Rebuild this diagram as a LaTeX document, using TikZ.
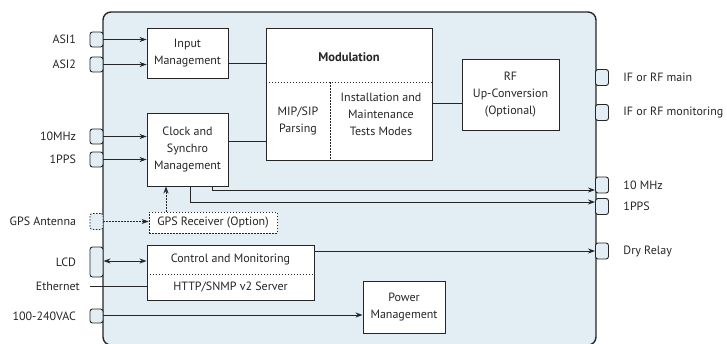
\documentclass[tikz,border=0pt]{standalone}
\usepackage{fontspec}
\setmainfont{PT Sans}
\usetikzlibrary{positioning,arrows.meta}
\definecolor{panel}{HTML}{E2EEF4}
\definecolor{ink}{HTML}{262626}
\begin{document}
\begin{tikzpicture}[>={Stealth[length=7pt,width=5pt]}, x=1pt, y=-1pt,
  every node/.style={font=\fontsize{12}{17}\selectfont, text=ink},
  block/.style={draw=ink, fill=white, align=center, inner sep=0pt, line width=0.9pt},
  port/.style={draw=ink, fill=panel, rounded corners=2.5pt, minimum width=13pt,
    minimum height=15pt, inner sep=0pt, line width=0.9pt},
  wire/.style={draw=ink, line width=0.9pt},
  dotline/.style={draw=ink, line width=0.8pt, dash pattern=on 1.5pt off 1.5pt}]

  \useasboundingbox (0,0) rectangle (727,343);
  \draw [ink, fill=panel, line width=1.4pt, rounded corners=8pt] (103,12) rectangle (596,345);

  % blocks
  \node [block, minimum width=81pt, minimum height=50pt] (input) at (187.5,53) {Input\\Management};
  \node [block, minimum width=81pt, minimum height=73pt] (clock) at (187.5,149.5) {Clock and\\Synchro\\Management};
  \node [block, minimum width=166pt, minimum height=132pt] (mod) at (349,94) {};
  \node [font=\fontsize{12.5}{17}\selectfont\bfseries] (modtitle) at (349,57) {Modulation};
  \node [align=center] (mip) at (298,121) {MIP/SIP\\Parsing};
  \node [align=center] (tests) at (381,114) {Installation and\\Maintenance\\Tests Modes};
  \node [block, minimum width=97pt, minimum height=71pt] (rf) at (510.5,94.5) {RF\\Up-Conversion\\(Optional)};
  \node [block, dotline, minimum width=128pt, minimum height=21pt] (gps) at (213,222.5) {GPS Receiver (Option)};
  \node [block, minimum width=167pt, minimum height=55pt] (ctrl) at (230.5,272.5) {};
  \node (ctrltop) at (230.5,259) {Control and Monitoring};
  \node (ctrlbot) at (230.5,287) {HTTP/SNMP v2 Server};
  \node [block, minimum width=82pt, minimum height=52pt] (power) at (404,307) {Power\\Management};

  \draw [dotline] (mod.west |- 0,82) -- (mod.east |- 0,82);
  \draw [dotline] (330,82) -- (mod.south -| 330,0);
  \draw [dotline] (ctrl.west |- 0,274) -- (ctrl.east |- 0,274);

  % left ports
  \node [port] (asi1) at (96.5,39.5) {};
  \node [port] (asi2) at (96.5,64.5) {};
  \node [port] (in10) at (96.5,136.5) {};
  \node [port] (in1pps) at (96.5,159.5) {};
  \node [port, dotline, minimum height=16pt] (gpsant) at (96.5,221.5) {};
  \node [port, minimum height=30pt] (lcd) at (96.5,262) {};
  \node [port, minimum height=14pt] (ac) at (96.5,316) {};

  \node [left=10pt of asi1] {ASI1};
  \node [left=10pt of asi2] {ASI2};
  \node [left=10pt of in10] {10MHz};
  \node [left=10pt of in1pps] {1PPS};
  \node [left=10pt of gpsant] {GPS Antenna};
  \node [left=10pt of lcd] {LCD};
  \node [anchor=east, inner sep=0pt] (eth) at (80,286) {Ethernet};
  \node [left=10pt of ac] {100-240VAC};

  % right ports
  \node [port, minimum height=16pt] (ifmain) at (602,77.5) {};
  \node [port, minimum height=16pt] (ifmon) at (602,112.5) {};
  \node [port, minimum height=16pt] (out10) at (602,185) {};
  \node [port, minimum height=16pt] (out1pps) at (602,206.5) {};
  \node [port, minimum height=16pt] (dry) at (602,251) {};

  \node [right=11pt of ifmain] {IF or RF main};
  \node [right=11pt of ifmon] {IF or RF monitoring};
  \node [right=11pt of out10] {10 MHz};
  \node [right=11pt of out1pps] {1PPS};
  \node [right=11pt of dry] {Dry Relay};

  % connections
  \draw [wire, ->] (asi1) -- (asi1 -| input.west);
  \draw [wire, ->] (asi2) -- (asi2 -| input.west);
  \draw [wire, ->] (in10) -- (in10 -| clock.west);
  \draw [wire, ->] (in1pps) -- (in1pps -| clock.west);
  \draw [wire] (input.east |- 0,63) -- (mod.west |- 0,63);
  \draw [wire] (clock.east |- 0,141) -- (mod.west |- 0,141);
  \draw [wire] (mod.east |- 0,103) -- (rf.west |- 0,103);
  \draw [wire, ->] (clock.south -| 212,0) |- ([yshift=-5pt]out10.west);
  \draw [wire, ->] (clock.south -| 190,0) |- ([yshift=4.5pt]out1pps.west);
  \draw [dotline, ->] (gps.north -| 166,0) -- (clock.south -| 166,0);
  \draw [dotline, ->] (gpsant) -- (gpsant -| gps.west);
  \draw [wire, <->] (lcd.east |- 0,261) -- (ctrl.west |- 0,261);
  \draw [wire] ([xshift=10pt]eth.east) -- (ctrl.west |- eth);
  \draw [wire, ->] (ac.east |- 0,315) -- (power.west |- 0,315);
  \draw [wire, ->] (dry -| ctrl.east) -- (dry.west);
\end{tikzpicture}
\end{document}
